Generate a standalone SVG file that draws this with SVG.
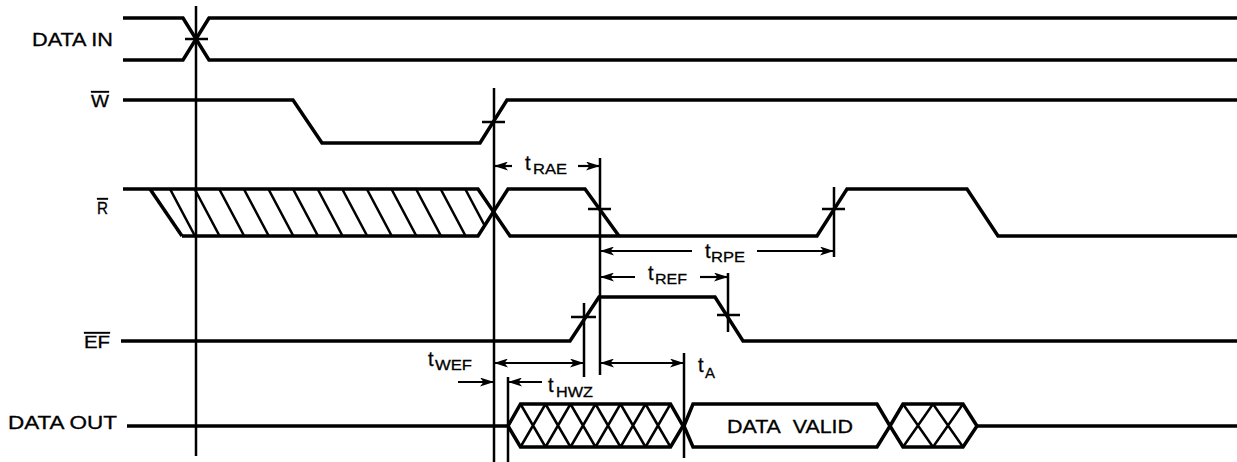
<svg xmlns="http://www.w3.org/2000/svg" width="1237" height="462" viewBox="0 0 1237 462">
<style>
.sig{fill:none;stroke:#000;stroke-width:3.5;stroke-linejoin:miter}
.thin{fill:none;stroke:#000;stroke-width:2.5}
.dim{fill:none;stroke:#000;stroke-width:2.2;marker-end:url(#ah)}
.dim2{fill:none;stroke:#000;stroke-width:2.2;marker-end:url(#ah);marker-start:url(#ah)}
.lbl{font-family:"Liberation Sans",Arial,sans-serif;font-size:18px;fill:#000;stroke:#000;stroke-width:0.3}
.sym{font-family:"Liberation Sans",Arial,sans-serif;font-size:17px;fill:#000;stroke:#000;stroke-width:0.3;text-decoration:overline}
.t{font-family:"Liberation Sans",Arial,sans-serif;font-size:20px;fill:#000;stroke:#000;stroke-width:0.3}
.sub{font-size:15px}
</style>
<defs>
<marker id="ah" viewBox="0 0 14 9" refX="14" refY="4.5" markerWidth="14" markerHeight="9" markerUnits="userSpaceOnUse" orient="auto-start-reverse">
<path d="M0,0 L14,4.5 L0,9 L3.5,4.5 Z" fill="#000"/>
</marker>
<clipPath id="hatchclip"><polygon points="150,189 478,189 494,212 478,236 182,236"/></clipPath>
</defs>
<rect width="1237" height="462" fill="#fff"/>

<g id="label-datain"><text class="lbl" x="32" y="46" textLength="81" lengthAdjust="spacingAndGlyphs">DATA IN</text></g>
<g id="label-w"><text class="sym" x="91" y="107" textLength="18" lengthAdjust="spacingAndGlyphs">W</text></g>
<g id="label-r"><text class="sym" x="97" y="214" textLength="11" lengthAdjust="spacingAndGlyphs">R</text></g>
<g id="label-ef"><text class="sym" x="84" y="348" textLength="26" lengthAdjust="spacingAndGlyphs">EF</text></g>
<g id="label-dataout"><text class="lbl" x="8" y="429" textLength="109" lengthAdjust="spacingAndGlyphs">DATA OUT</text></g>

<g id="signal-datain">
<path class="sig" d="M123,18 H183 L209,60 H1237"/>
<path class="sig" d="M123,60 H183 L209,18 H1237"/>
<path class="thin" d="M185,39 H208"/>
</g>

<g id="signal-w">
<path class="sig" d="M123,100 H293 L322,143 H480 L507,100 H1237"/>
<path class="thin" d="M482,122 H505"/>
</g>

<g id="signal-r">
<g clip-path="url(#hatchclip)" class="thin">
<path d="M170,189 l25,47 M194.6,189 l25,47 M219.2,189 l25,47 M243.8,189 l25,47 M268.4,189 l25,47 M293,189 l25,47 M317.6,189 l25,47 M342.2,189 l25,47 M366.8,189 l25,47 M391.4,189 l25,47 M416,189 l25,47 M440.6,189 l25,47 M465.2,189 l25,47"/>
</g>
<path class="sig" d="M150,189 L182,236"/>
<path class="sig" d="M123,189 H478 L510,236 H817 L847,189 H967 L998,236 H1237"/>
<path class="sig" d="M182,236 H478 L508,189 H585 L619,236"/>
<path class="thin" d="M588,209 H611 M822,209 H845"/>
</g>

<g id="signal-ef">
<path class="sig" d="M121,341 H570 L599,297 H715 L743,341 H1237"/>
<path class="thin" d="M571,317 H596 M717,315 H740"/>
</g>

<g id="signal-dataout">
<path class="sig" d="M127,426 H508"/>
<path class="sig" d="M508,426 L520.5,404 H670.5 L683,426 L670.5,447 H520.5 Z"/>
<path class="thin" d="M520.5,404 L545.5,447 M520.5,447 L545.5,404 M545.5,404 L570.5,447 M545.5,447 L570.5,404 M570.5,404 L595.5,447 M570.5,447 L595.5,404 M595.5,404 L620.5,447 M595.5,447 L620.5,404 M620.5,404 L645.5,447 M620.5,447 L645.5,404 M645.5,404 L670.5,447 M645.5,447 L670.5,404"/>
<path class="sig" d="M684,426 L693,404 H877 L890,426 L877,447 H693 Z"/>
<text class="lbl" x="727" y="433" textLength="126" lengthAdjust="spacingAndGlyphs">DATA&#160;&#160;VALID</text>
<path class="sig" d="M890,426 L903,404 H963 L977,426 L963,447 H903 Z"/>
<path class="thin" d="M903,404 L933,447 M903,447 L933,404 M933,404 L963,447 M933,447 L963,404"/>
<path class="sig" d="M977,426 H1237"/>
</g>

<g id="connectors">
<path class="thin" d="M196,6 V456 M494,88 V462 M600,158 V375 M834,187 V257 M728,273 V332 M584,303 V377 M684,353 V458 M508,377 V462"/>
<path class="dim" d="M512,166 H494"/>
<path class="dim" d="M578,166 H600"/>
<path class="dim" d="M692,251 H600"/>
<path class="dim" d="M757,251 H834"/>
<path class="dim" d="M635,277 H600"/>
<path class="dim" d="M700,277 H728"/>
<path class="dim2" d="M494,363 H584"/>
<path class="dim2" d="M600,363 H684"/>
<path class="dim" d="M458,382 H494"/>
<path class="dim" d="M542,382 H508"/>
</g>

<g id="timing-labels">
<text class="t"><tspan x="525" y="170">t</tspan><tspan class="sub" x="533" y="174" textLength="34" lengthAdjust="spacingAndGlyphs">RAE</tspan></text>
<text class="t"><tspan x="705" y="258">t</tspan><tspan class="sub" x="711" y="262" textLength="34" lengthAdjust="spacingAndGlyphs">RPE</tspan></text>
<text class="t"><tspan x="648" y="280">t</tspan><tspan class="sub" x="655" y="284" textLength="32" lengthAdjust="spacingAndGlyphs">REF</tspan></text>
<text class="t"><tspan x="428" y="366">t</tspan><tspan class="sub" x="435" y="370" textLength="37" lengthAdjust="spacingAndGlyphs">WEF</tspan></text>
<text class="t"><tspan x="548" y="392">t</tspan><tspan class="sub" x="556" y="397" textLength="37" lengthAdjust="spacingAndGlyphs">HWZ</tspan></text>
<text class="t"><tspan x="698" y="372">t</tspan><tspan class="sub" x="705" y="378" textLength="10" lengthAdjust="spacingAndGlyphs">A</tspan></text>
</g>
</svg>
